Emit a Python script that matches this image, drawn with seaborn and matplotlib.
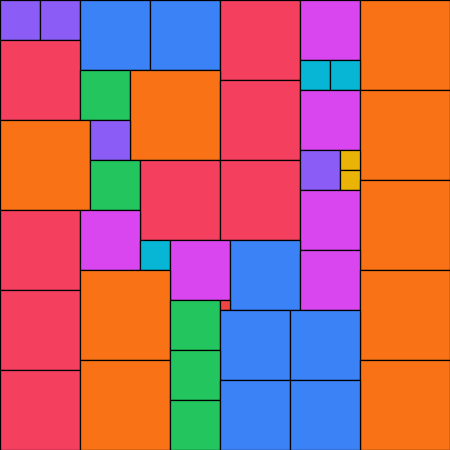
import matplotlib
matplotlib.use("Agg")
import matplotlib.pyplot as plt
import seaborn as sns

sns.set_theme(style="white")

# square tiling: left, top, side length, colour group
xs = [0, 40, 80, 150, 220, 300, 360,
      0, 80, 130, 220, 300, 330, 300, 360,
      0, 90, 90, 140, 220, 300, 340, 340, 300, 360,
      0, 80, 140, 170, 230, 300, 360,
      0, 80, 170, 220, 220, 290, 360,
      0, 80, 170, 170, 220, 290]
ys = [0, 0, 0, 0, 0, 0, 0,
      40, 70, 70, 80, 60, 60, 90, 90,
      120, 120, 160, 160, 160, 150, 150, 170, 190, 180,
      210, 210, 240, 240, 240, 250, 270,
      290, 270, 300, 300, 310, 310, 360,
      370, 360, 350, 400, 380, 380]
sides = [40, 40, 70, 70, 80, 60, 90,
         80, 50, 90, 80, 30, 30, 60, 90,
         90, 40, 50, 80, 80, 40, 20, 20, 60, 90,
         80, 60, 30, 60, 70, 60, 90,
         80, 90, 50, 10, 70, 70, 90,
         80, 90, 50, 50, 70, 70]

palette = {
    10: "#ef4444", 20: "#eab308", 30: "#06b6d4", 40: "#8b5cf6",
    50: "#22c55e", 60: "#d946ef", 70: "#3b82f6", 80: "#f43f5e",
    90: "#f97316",
}
colors = [palette[s] for s in sides]

fig = plt.figure(figsize=(4.5, 4.5), dpi=100)
ax = fig.add_axes([0, 0, 1, 1])
ax.bar(xs, sides, width=sides, bottom=ys, align="edge",
       color=colors, edgecolor="black", linewidth=0.9)
ax.set_xlim(0, 450)
ax.set_ylim(450, 0)
ax.axis("off")

fig.savefig("out.png", dpi=100)
